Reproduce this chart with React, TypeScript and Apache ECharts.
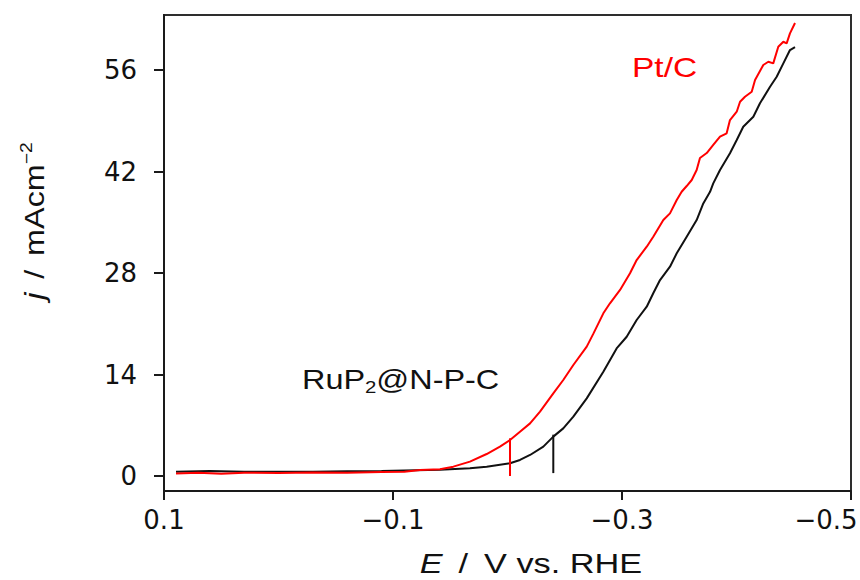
import React, { useEffect, useRef } from "react";
import * as echarts from "echarts";

// RuP2@N-P-C (black) polarization curve: potential (V vs. RHE) and current density (mA cm^-2)
const eBlack = [
  0.0895, 0.06, 0.03, 0.0, -0.03, -0.06, -0.09, -0.12, -0.141, -0.1672, -0.1818,
  -0.2022, -0.2109, -0.2197, -0.2313, -0.24, -0.2487, -0.2575, -0.2692, -0.2837,
  -0.2953, -0.3041, -0.3128, -0.3216, -0.3273, -0.3332, -0.3419, -0.3478, -0.3565,
  -0.3652, -0.371, -0.3769, -0.3797, -0.3856, -0.3943, -0.4002, -0.4059, -0.4147,
  -0.4205, -0.4293, -0.4351, -0.4409, -0.4467, -0.4511,
];
const jBlack = [
  0.6, 0.7, 0.6, 0.6, 0.6, 0.65, 0.7, 0.8, 0.85, 1.06, 1.29,
  1.75, 2.21, 2.9, 4.05, 5.43, 6.57, 8.18, 10.71, 14.39,
  17.6, 19.21, 21.52, 23.35, 25.2, 27.03, 28.87, 30.72, 33.01,
  35.31, 37.6, 39.2, 40.37, 42.21, 44.51, 46.34, 48.18, 49.56,
  51.41, 53.7, 55.08, 56.92, 58.76, 59.17,
];

// Pt/C (red) polarization curve
const eRed = [
  0.0895, 0.07, 0.05, 0.03, 0.0, -0.03, -0.06, -0.09, -0.11, -0.1236, -0.141,
  -0.1527, -0.1672, -0.1818, -0.1934, -0.2022, -0.2109, -0.2197, -0.2284, -0.24,
  -0.2487, -0.2575, -0.2692, -0.2749, -0.2837, -0.2895, -0.2983, -0.307, -0.3128,
  -0.3216, -0.3273, -0.3361, -0.3419, -0.3478, -0.3521, -0.3565, -0.3609, -0.3652,
  -0.3681, -0.374, -0.3797, -0.3856, -0.3914, -0.3943, -0.4002, -0.4031, -0.4074,
  -0.4133, -0.4162, -0.4234, -0.4278, -0.4321, -0.4365, -0.4409, -0.4438, -0.4467,
  -0.4511,
];
const jRed = [
  0.35, 0.45, 0.3, 0.45, 0.4, 0.5, 0.45, 0.55, 0.6, 0.83, 0.92,
  1.29, 1.98, 3.03, 4.05, 4.97, 6.11, 7.26, 8.87, 11.4,
  13.24, 15.31, 17.84, 19.6, 22.44, 23.82, 25.66, 27.96, 29.79,
  31.63, 33.01, 35.31, 36.23, 38.07, 39.21, 40.0, 40.83, 42.21,
  43.86, 44.55, 45.66, 46.8, 47.27, 49.1, 50.25, 51.63, 52.32,
  53.01, 54.62, 56.69, 57.14, 56.92, 59.21, 59.9, 59.68, 61.06,
  62.48,
];

// vertical marker lines at the ~5 mA cm^-2 potentials: [red, black]
const markerE = [-0.2022, -0.24];
const markerBottom = [0.0, 0.4];
const markerTop = [5.2, 5.7];

const xTicks = [0.1, -0.1, -0.3, -0.5];
const yTicks = [0, 14, 28, 42, 56];

const RED = "#ff0000";
const BLACK = "#111111";

const fmtX = (v: number) => {
  const r = Math.round(v * 10) / 10;
  const s = r < 0 ? "\u2212" + Math.abs(r).toFixed(1) : r.toFixed(1);
  // the last label sits against the right edge of the figure
  return r <= -0.5 ? "{edge|" + s + "}" : s;
};

const zip = (xs: number[], ys: number[]) => xs.map((x, i) => [x, ys[i]]);

export default function App() {
  const ref = useRef<HTMLDivElement>(null);

  useEffect(() => {
    if (!ref.current) return;
    const chart = echarts.init(ref.current, null, { renderer: "svg" });
    const labelFont = "Liberation Sans";
    const option: any = {
      animation: false,
      backgroundColor: "#ffffff",
      grid: {
        left: 164,
        right: 9,
        top: 15,
        bottom: 89,
        containLabel: false,
        outerBoundsMode: "none",
        show: true,
        borderColor: "#2e2e2e",
        borderWidth: 2,
        backgroundColor: "transparent",
      },
      xAxis: {
        type: "value",
        min: -0.5,
        max: 0.1,
        inverse: true,
        axisLine: { show: true, onZero: false, lineStyle: { color: "#1a1a1a", width: 2 } },
        axisTick: {
          show: true,
          customValues: xTicks,
          length: 9,
          inside: false,
          lineStyle: { color: "#1a1a1a", width: 2 },
        },
        axisLabel: {
          customValues: xTicks,
          formatter: fmtX,
          margin: 16,
          fontFamily: "DejaVu Sans",
          fontSize: 26,
          color: "#111",
          showMinLabel: true,
          showMaxLabel: true,
          rich: {
            edge: {
              fontFamily: "DejaVu Sans",
              fontSize: 26,
              color: "#111",
              padding: [0, 50, 0, 0],
            },
          },
        },
        splitLine: { show: false },
      },
      yAxis: {
        type: "value",
        min: -2.069,
        max: 63.59,
        axisLine: { show: true, onZero: false, lineStyle: { color: "#1a1a1a", width: 2 } },
        axisTick: {
          show: true,
          customValues: yTicks,
          length: 10,
          inside: false,
          lineStyle: { color: "#1a1a1a", width: 2 },
        },
        axisLabel: {
          customValues: yTicks,
          formatter: (v: number) => String(Math.round(v)),
          margin: 27,
          fontFamily: "DejaVu Sans",
          fontSize: 26,
          color: "#111",
        },
        splitLine: { show: false },
      },
      series: [
        {
          name: "RuP2@N-P-C",
          type: "line",
          data: zip(eBlack, jBlack),
          symbol: "none",
          lineStyle: { color: BLACK, width: 2 },
          z: 2,
        },
        {
          name: "Pt/C",
          type: "line",
          data: zip(eRed, jRed),
          symbol: "none",
          lineStyle: { color: RED, width: 2 },
          z: 3,
        },
        {
          name: "Pt/C marker",
          type: "line",
          data: [
            [markerE[0], markerBottom[0]],
            [markerE[0], markerTop[0]],
          ],
          symbol: "none",
          lineStyle: { color: RED, width: 2 },
          z: 3,
        },
        {
          name: "RuP2 marker",
          type: "line",
          data: [
            [markerE[1], markerBottom[1]],
            [markerE[1], markerTop[1]],
          ],
          symbol: "none",
          lineStyle: { color: BLACK, width: 2 },
          z: 2,
        },
      ],
      graphic: [
        {
          type: "text",
          x: 632,
          y: 67,
          scaleX: 1.24,
          style: {
            text: "Pt/C",
            fill: RED,
            fontFamily: labelFont,
            fontSize: 27,
            align: "left",
            verticalAlign: "middle",
          },
        },
        {
          type: "text",
          x: 302,
          y: 379,
          scaleX: 1.2,
          style: {
            text: "{a|RuP}{s|2}{a|@N-P-C}",
            align: "left",
            verticalAlign: "middle",
            rich: {
              a: { fontFamily: labelFont, fontSize: 27, fill: BLACK, lineHeight: 34 },
              s: {
                fontFamily: labelFont,
                fontSize: 17,
                fill: BLACK,
                lineHeight: 16,
                verticalAlign: "bottom",
              },
            },
          },
        },
        {
          type: "text",
          x: 531,
          y: 564,
          scaleX: 1.27,
          style: {
            text: "{i|E}{sl| / }{n|V vs. RHE}",
            align: "center",
            verticalAlign: "middle",
            rich: {
              i: { fontFamily: labelFont, fontSize: 27, fontStyle: "italic", fill: BLACK, lineHeight: 28 },
              sl: { fontFamily: labelFont, fontSize: 27, fill: BLACK, padding: [0, 5], lineHeight: 28 },
              n: { fontFamily: labelFont, fontSize: 27, fill: BLACK, lineHeight: 28 },
            },
          },
        },
        {
          type: "text",
          x: 34,
          y: 221,
          rotation: Math.PI / 2,
          scaleX: 1.2,
          style: {
            text: "{i|j}{sl| / }{n|mAcm}{s|\u22122}",
            align: "center",
            verticalAlign: "middle",
            rich: {
              i: { fontFamily: labelFont, fontSize: 27, fontStyle: "italic", fill: BLACK, lineHeight: 30 },
              sl: { fontFamily: labelFont, fontSize: 27, fill: BLACK, lineHeight: 30, padding: [0, 4] },
              n: { fontFamily: labelFont, fontSize: 27, fill: BLACK, lineHeight: 30 },
              s: {
                fontFamily: labelFont,
                fontSize: 16,
                fill: BLACK,
                lineHeight: 16,
                verticalAlign: "top",
              },
            },
          },
        },
      ],
    };
    chart.setOption(option);
    return () => chart.dispose();
  }, []);

  return (
    <div
      ref={ref}
      style={{ position: "fixed", left: 0, top: 0, width: 860, height: 580, background: "#fff" }}
    />
  );
}
